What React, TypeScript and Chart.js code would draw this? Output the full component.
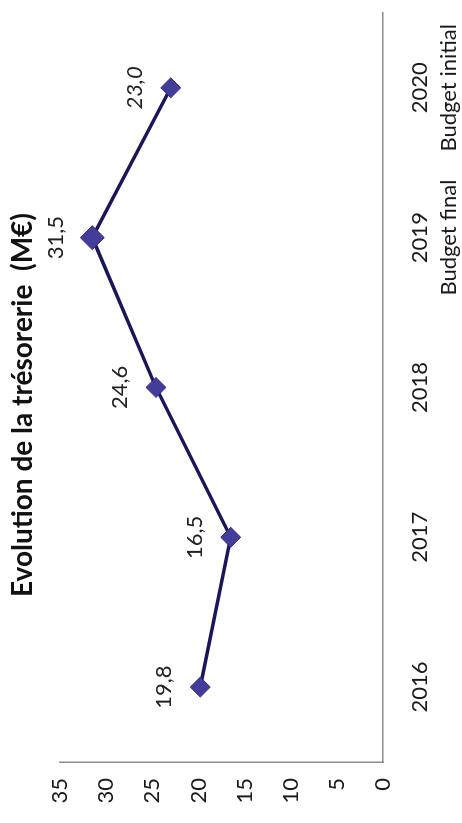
import React, { useEffect, useRef } from "react";
import { Chart, registerables } from "chart.js";

Chart.register(...registerables);

const categories: (string | string[])[] = [
  "2016",
  "2017",
  "2018",
  ["2019", "Budget final"],
  ["2020", "Budget initial"],
];
const values = [19.8, 16.5, 24.6, 31.5, 23.0];
const valueLabels = ["19,8", "16,5", "24,6", "31,5", "23,0"];
const italicLabels = [false, false, false, false, true];
const yMin = 0;
const yMax = 35;
const yStep = 5;
const title = "Evolution de la trésorerie  (M€)";

const W = 823;
const H = 462;
const FONT = "Lato, 'Open Sans', 'Noto Sans', sans-serif";

const valueLabelPlugin = {
  id: "valueLabels",
  afterDatasetsDraw(chart: any) {
    const ctx = chart.ctx;
    const meta = chart.getDatasetMeta(0);
    meta.data.forEach((pt: any, i: number) => {
      ctx.save();
      ctx.font = `${italicLabels[i] ? "italic " : ""}22px ${FONT}`;
      ctx.fillStyle = "#222222";
      ctx.textAlign = "center";
      ctx.textBaseline = "middle";
      ctx.fillText(valueLabels[i], pt.x, pt.y - 36);
      ctx.restore();
    });
  },
};

export default function App() {
  const ref = useRef<HTMLCanvasElement | null>(null);

  useEffect(() => {
    let chart: Chart | null = null;
    let cancelled = false;
    const make = () => {
      if (cancelled || !ref.current) return;
      chart = new Chart(ref.current, {
        type: "line",
        data: {
          labels: categories as any,
          datasets: [
            {
              data: values,
              borderColor: "#1a165a",
              borderWidth: 3.5,
              pointStyle: "rectRot",
              pointRadius: [10, 10, 10, 12, 10],
              pointBackgroundColor: "#413d98",
              pointBorderColor: "#3a2a86",
              pointBorderWidth: 1,
              tension: 0,
              fill: false,
            },
          ],
        },
        options: {
          responsive: false,
          animation: false,
          devicePixelRatio: 1,
          layout: { padding: { left: 18, right: 5, top: 0, bottom: 0 } },
          plugins: {
            legend: { display: false },
            tooltip: { enabled: false },
            title: {
              display: true,
              text: title,
              color: "#111111",
              font: { family: FONT, size: 28, weight: "bold", lineHeight: 1.2 },
              padding: { top: 6, bottom: 20.4 },
            },
          },
          scales: {
            x: {
              type: "category",
              offset: true,
              grid: { display: false, drawTicks: false },
              border: { display: true, color: "#8c8c8c", width: 1.5 },
              ticks: {
                color: "#1a1a1a",
                padding: 23,
                maxRotation: 0,
                autoSkip: false,
                font: { family: FONT, size: 22, lineHeight: 1.3 },
              },
              afterFit: (s: any) => {
                s.height = 79;
              },
            },
            y: {
              min: yMin,
              max: yMax,
              grid: { display: false, drawTicks: false },
              border: { display: true, color: "#8c8c8c", width: 1.5 },
              ticks: {
                stepSize: yStep,
                color: "#1a1a1a",
                padding: 16,
                font: { family: FONT, size: 22 },
              },
              afterFit: (s: any) => {
                s.width = 43;
              },
            },
          },
        },
        plugins: [valueLabelPlugin],
      });
    };
    const fontsApi = (document as any).fonts;
    if (fontsApi && fontsApi.load) {
      Promise.all([
        fontsApi.load(`22px Lato`),
        fontsApi.load(`bold 28px Lato`),
        fontsApi.load(`italic 22px Lato`),
      ])
        .catch(() => null)
        .then(make);
    } else {
      make();
    }
    return () => {
      cancelled = true;
      if (chart) chart.destroy();
    };
  }, []);

  return (
    <div
      style={{
        position: "fixed",
        top: 0,
        left: 0,
        width: W,
        height: H,
        background: "#ffffff",
        transformOrigin: "0 0",
        transform: `translate(0px, ${W}px) rotate(-90deg)`,
      }}
    >
      <canvas ref={ref} width={W} height={H} style={{ display: "block", width: W, height: H }} />
    </div>
  );
}
